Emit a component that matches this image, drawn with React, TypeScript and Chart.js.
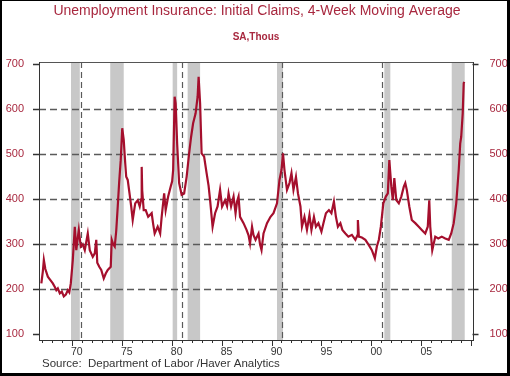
import React, { useEffect, useRef } from "react";
import { Chart, registerables } from "chart.js";

Chart.register(...registerables);

const TITLE = "Unemployment Insurance: Initial Claims, 4-Week Moving Average";
const SUBTITLE = "SA,Thous";
const SOURCE = "Source:  Department of Labor /Haver Analytics";

const years: number[] = [
  1966.95, 1967.1, 1967.2, 1967.35, 1967.6, 1967.8, 1968.1, 1968.3, 1968.45, 1968.6,
  1968.8, 1969.0, 1969.2, 1969.4, 1969.6, 1969.75, 1969.9, 1970.1, 1970.3, 1970.45,
  1970.6, 1970.7, 1970.9, 1971.1, 1971.3, 1971.6, 1971.8, 1972.1, 1972.3, 1972.45,
  1972.55, 1972.75, 1972.95, 1973.2, 1973.4, 1973.6, 1973.9, 1974.0, 1974.15, 1974.3,
  1974.45, 1974.6, 1974.75, 1974.9, 1975.05, 1975.2, 1975.35, 1975.45, 1975.6, 1975.8,
  1975.95, 1976.1, 1976.35, 1976.6, 1976.8, 1976.95, 1977.0, 1977.05, 1977.2, 1977.4,
  1977.65, 1978.0, 1978.15, 1978.3, 1978.6, 1978.85, 1979.0, 1979.25, 1979.4, 1979.65,
  1979.9, 1980.05, 1980.15, 1980.3, 1980.4, 1980.55, 1980.75, 1981.0, 1981.25, 1981.5,
  1981.75, 1981.95, 1982.15, 1982.4, 1982.6, 1982.7, 1982.85, 1983.0, 1983.25, 1983.5,
  1983.7, 1983.85, 1984.1, 1984.35, 1984.6, 1984.85, 1985.05, 1985.35, 1985.55, 1985.7,
  1985.95, 1986.2, 1986.4, 1986.55, 1986.7, 1986.85, 1987.2, 1987.5, 1987.7, 1987.85,
  1988.05, 1988.2, 1988.4, 1988.7, 1988.85, 1989.0, 1989.2, 1989.55, 1989.9, 1990.2,
  1990.55, 1990.8, 1991.0, 1991.15, 1991.3, 1991.55, 1991.8, 1992.0, 1992.2, 1992.45,
  1992.65, 1992.9, 1993.05, 1993.3, 1993.55, 1993.8, 1994.0, 1994.25, 1994.45, 1994.7,
  1995.0, 1995.2, 1995.45, 1995.75, 1996.0, 1996.25, 1996.45, 1996.65, 1996.9, 1997.1,
  1997.4, 1997.7, 1998.05, 1998.4, 1998.6, 1998.65, 1998.75, 1999.05, 1999.4, 1999.75,
  2000.05, 2000.35, 2000.55, 2000.75, 2000.95, 2001.2, 2001.45, 2001.65, 2001.8, 2002.0,
  2002.15, 2002.3, 2002.5, 2002.75, 2003.0, 2003.25, 2003.4, 2003.55, 2003.8, 2004.05,
  2004.4, 2004.75, 2005.05, 2005.4, 2005.65, 2005.8, 2005.9, 2006.1, 2006.4, 2006.7,
  2007.05, 2007.4, 2007.75, 2008.0, 2008.25, 2008.5, 2008.75, 2008.9, 2009.0, 2009.15,
  2009.25, 2009.3,
];

const claims: number[] = [
  213, 240, 265, 245, 228, 222, 213, 205, 198, 202,
  191, 195, 184, 188, 198, 193, 213, 265, 339, 287,
  315, 332, 295, 300, 287, 324, 287, 272, 280, 310,
  259, 250, 243, 224, 235, 243, 250, 310, 300, 295,
  330, 384, 440, 487, 558, 532, 480, 450, 443, 410,
  384, 354, 391, 398, 384, 400, 472, 420, 376, 376,
  361, 369, 345, 324, 339, 324, 361, 413, 376, 406,
  428, 440, 465, 628, 613, 524, 436, 410, 413, 450,
  502, 539, 569, 591, 628, 672, 613, 502, 495, 458,
  430, 398, 339, 369, 384, 421, 384, 398, 385, 413,
  384, 406, 369, 395, 406, 361, 347, 332, 320, 302,
  339, 320, 310, 324, 300, 287, 324, 347, 361, 369,
  391, 443, 465, 502, 465, 421, 436, 458, 421, 450,
  413, 384, 339, 361, 332, 365, 332, 361, 339, 347,
  328, 347, 369, 376, 369, 395, 361, 339, 347, 332,
  324, 317, 321, 310, 320, 354, 317, 315, 310, 298,
  287, 269, 295, 310, 339, 391, 406, 413, 487, 428,
  398, 447, 398, 391, 406, 428, 436, 421, 384, 354,
  347, 339, 332, 324, 339, 398, 339, 287, 317, 313,
  317, 313, 310, 324, 347, 391, 465, 524, 539, 591,
  658, 661,
];

const recessionStarts: number[] = [1969.92, 1973.85, 1980.1, 1981.6, 1990.55, 2001.3, 2008.05];
const recessionEnds: number[] = [1970.8, 1975.2, 1980.55, 1982.85, 1991.15, 2001.9, 2009.35];
const markerYears: number[] = [1970.9, 1981.0, 1991.05, 2001.05];

const xTickYears: number[] = [1970, 1975, 1980, 1985, 1990, 1995, 2000, 2005];
const xTickLabels: string[] = ["70", "75", "80", "85", "90", "95", "00", "05"];
const yTicks: number[] = [100, 200, 300, 400, 500, 600, 700];
const yGridValues: number[] = [200, 300, 400, 500, 600];

const X_MIN = 1966.715;
const X_MAX = 2010.13;
const Y_MIN = 87.3;
const Y_MAX = 705.1;

const FONT = '"Liberation Sans", Arial, Helvetica, sans-serif';
const RED_TEXT = "#a8283f";
const LINE_RED = "#a50f2d";
const GRID = "#5a5a5a";

const overlayPlugin = {
  id: "overlay",
  beforeDraw(chart: any) {
    const { ctx, width, height } = chart;
    ctx.save();
    ctx.fillStyle = "#ffffff";
    ctx.fillRect(0, 0, width, height);
    ctx.restore();
  },
  beforeDatasetsDraw(chart: any) {
    const { ctx, chartArea: a } = chart;
    const x = chart.scales.x;
    const y = chart.scales.y;
    ctx.save();
    ctx.fillStyle = "#c8c8c8";
    recessionStarts.forEach((s, i) => {
      const x0 = x.getPixelForValue(s);
      const x1 = Math.min(x.getPixelForValue(recessionEnds[i]), a.right);
      ctx.fillRect(x0, a.top, x1 - x0, a.bottom - a.top);
    });
    ctx.strokeStyle = GRID;
    ctx.lineWidth = 1.4;
    ctx.setLineDash([7, 4]);
    yGridValues.forEach((v) => {
      const py = Math.round(y.getPixelForValue(v)) + 0.5;
      ctx.beginPath();
      ctx.moveTo(a.left, py);
      ctx.lineTo(a.right, py);
      ctx.stroke();
    });
    ctx.setLineDash([6, 4]);
    ctx.lineWidth = 1.2;
    markerYears.forEach((yr) => {
      const px = Math.round(x.getPixelForValue(yr)) + 0.5;
      ctx.beginPath();
      ctx.moveTo(px, a.top);
      ctx.lineTo(px, a.bottom);
      ctx.stroke();
    });
    ctx.restore();
  },
  afterDatasetsDraw(chart: any) {
    const { ctx, chartArea: a, width, height } = chart;
    const x = chart.scales.x;
    const y = chart.scales.y;
    ctx.save();
    ctx.setLineDash([]);
    ctx.strokeStyle = "#555555";
    ctx.lineWidth = 1;
    ctx.strokeRect(Math.round(a.left) + 0.5, Math.round(a.top) + 0.5, Math.round(a.right - a.left), Math.round(a.bottom - a.top));
    ctx.strokeStyle = "#333333";
    ctx.beginPath();
    ctx.moveTo(Math.round(a.left) + 0.5, a.top);
    ctx.lineTo(Math.round(a.left) + 0.5, a.bottom + 1);
    ctx.moveTo(a.left, Math.round(a.bottom) + 0.5);
    ctx.lineTo(a.right + 1, Math.round(a.bottom) + 0.5);
    ctx.moveTo(Math.round(a.right) + 0.5, a.top);
    ctx.lineTo(Math.round(a.right) + 0.5, a.bottom + 1);
    ctx.stroke();
    ctx.lineWidth = 1.5;
    yTicks.forEach((v) => {
      const py = Math.round(y.getPixelForValue(v)) + 0.5;
      ctx.beginPath();
      ctx.moveTo(a.left - 6, py);
      ctx.lineTo(a.left, py);
      ctx.moveTo(a.right, py);
      ctx.lineTo(a.right + 6, py);
      ctx.stroke();
    });
    ctx.lineWidth = 1;
    for (let yr = Math.ceil(X_MIN); yr <= Math.floor(X_MAX); yr++) {
      const px = Math.round(x.getPixelForValue(yr)) + 0.5;
      const major = yr % 5 === 0;
      ctx.beginPath();
      ctx.moveTo(px, a.bottom);
      ctx.lineTo(px, a.bottom + (major ? 6 : 3));
      ctx.stroke();
    }
    ctx.textBaseline = "middle";
    ctx.textAlign = "center";
    ctx.fillStyle = RED_TEXT;
    ctx.font = `14px ${FONT}`;
    ctx.fillText(TITLE, 257, 11);
    ctx.font = `bold 10px ${FONT}`;
    ctx.fillText(SUBTITLE, 256, 37);
    ctx.textAlign = "left";
    ctx.fillStyle = "#333333";
    ctx.font = `11.5px ${FONT}`;
    ctx.fillText(SOURCE, 42, 364);
    ctx.fillStyle = "#000000";
    ctx.fillRect(0, 0, width, 1);
    ctx.fillRect(0, 0, 2, height);
    ctx.fillRect(width - 3, 0, 3, height);
    ctx.fillRect(0, height - 3, width, 3);
    ctx.restore();
  },
};

export default function App() {
  const ref = useRef<HTMLCanvasElement | null>(null);
  useEffect(() => {
    if (!ref.current) return;
    const points = years.map((yr, i) => ({ x: yr, y: claims[i] }));
    const chart = new Chart(ref.current, {
      type: "line",
      data: {
        datasets: [
          {
            data: points,
            borderColor: LINE_RED,
            borderWidth: 2.2,
            pointRadius: 0,
            tension: 0,
            fill: false,
          },
        ],
      },
      options: {
        animation: false,
        responsive: false,
        devicePixelRatio: 1,
        layout: { padding: { top: 62, left: 0, right: 0, bottom: 0 } },
        plugins: {
          legend: { display: false },
          tooltip: { enabled: false },
          title: { display: false },
        },
        scales: {
          x: {
            type: "linear",
            min: X_MIN,
            max: X_MAX,
            grid: { display: false },
            border: { display: false },
            afterBuildTicks: (scale: any) => {
              scale.ticks = xTickYears.map((v) => ({ value: v + 0.5 }));
            },
            afterFit: (scale: any) => {
              scale.height = 36;
            },
            ticks: {
              autoSkip: false,
              maxRotation: 0,
              padding: -2,
              color: "#333333",
              font: { family: FONT, size: 10.5 },
              callback: (_v: any, i: number) => xTickLabels[i],
            },
          },
          y: {
            type: "linear",
            position: "left",
            min: Y_MIN,
            max: Y_MAX,
            grid: { display: false },
            border: { display: false },
            afterBuildTicks: (scale: any) => {
              scale.ticks = yTicks.map((v) => ({ value: v }));
            },
            afterFit: (scale: any) => {
              scale.width = 39;
            },
            ticks: {
              padding: 7,
              color: RED_TEXT,
              font: { family: FONT, size: 11 },
            },
          },
          y2: {
            type: "linear",
            position: "right",
            min: Y_MIN,
            max: Y_MAX,
            grid: { display: false },
            border: { display: false },
            afterBuildTicks: (scale: any) => {
              scale.ticks = yTicks.map((v) => ({ value: v }));
            },
            afterFit: (scale: any) => {
              scale.width = 37.5;
            },
            ticks: {
              padding: 9,
              color: RED_TEXT,
              font: { family: FONT, size: 11 },
            },
          },
        },
      },
      plugins: [overlayPlugin],
    });
    return () => chart.destroy();
  }, []);

  return (
    <div style={{ position: "fixed", left: 0, top: 0, width: 510, height: 376, background: "#fff" }}>
      <canvas ref={ref} width={510} height={376} style={{ width: 510, height: 376, display: "block" }} />
    </div>
  );
}
